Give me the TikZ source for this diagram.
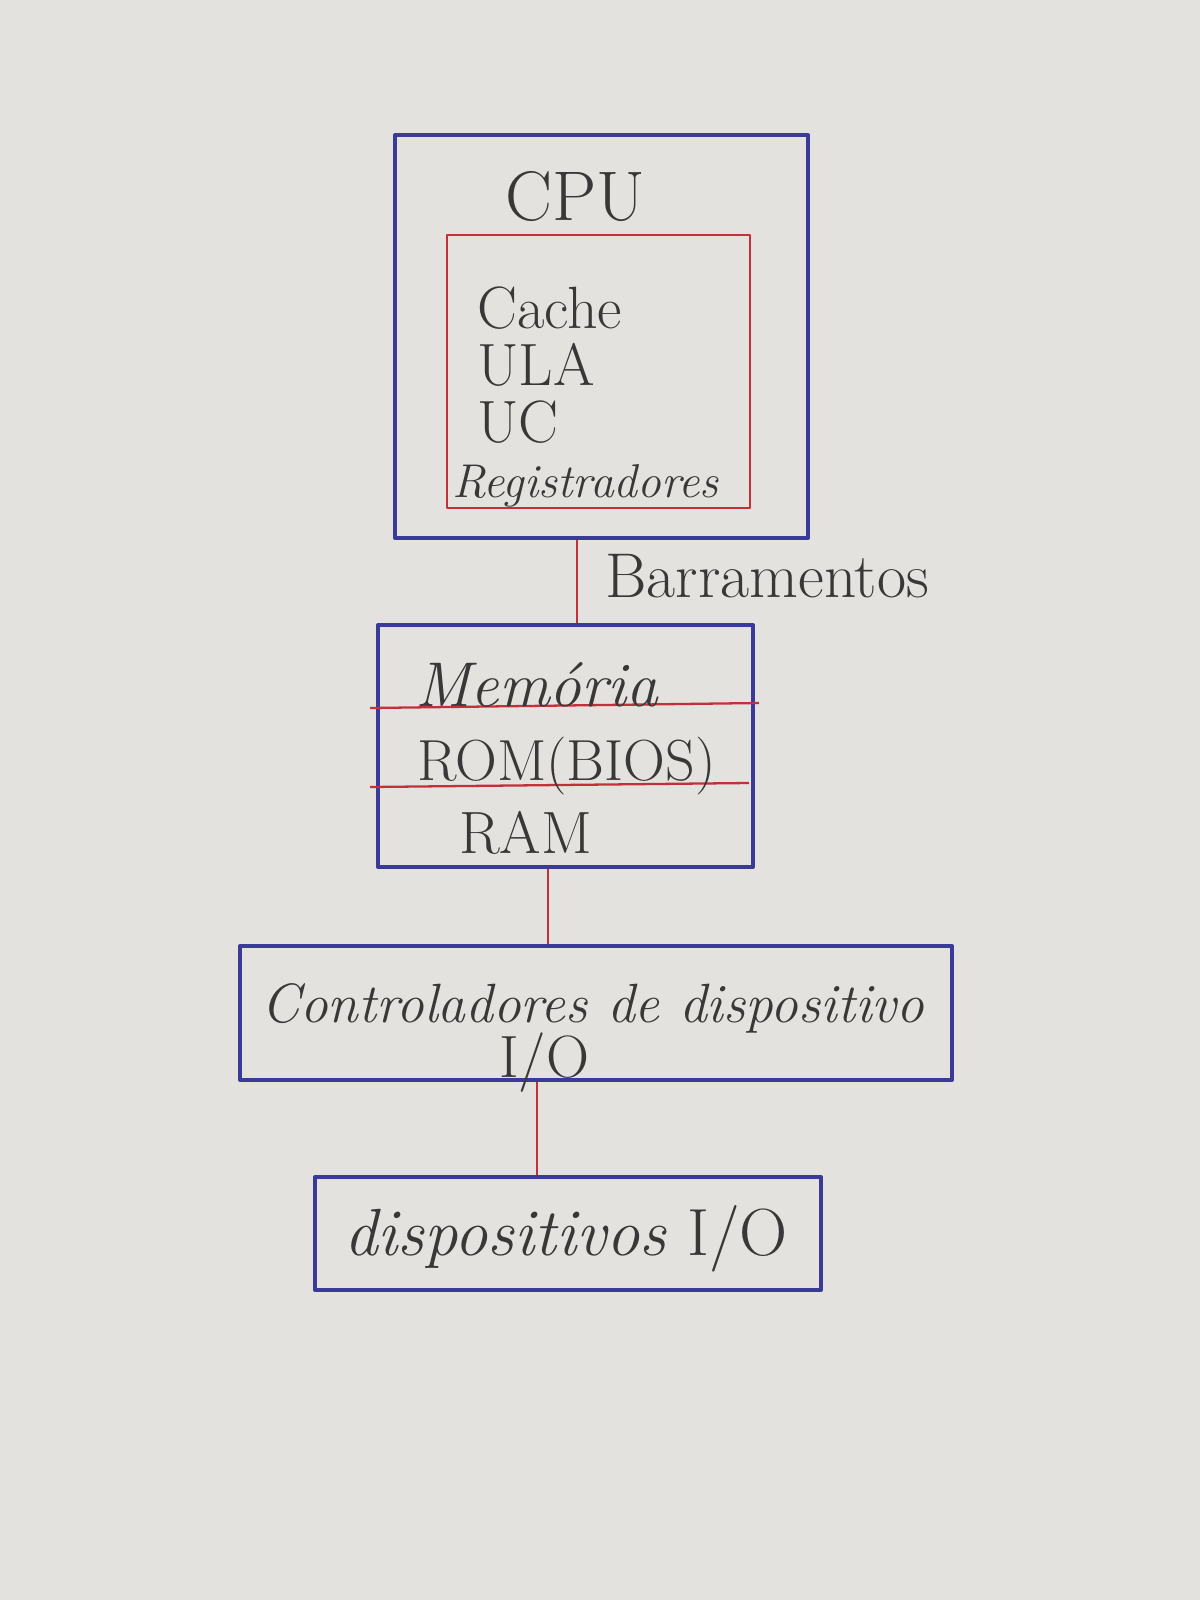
\documentclass[tikz,border=0pt]{standalone}
\usepackage{fontspec}
\usepackage{tikz}
\usetikzlibrary{positioning,calc}
\definecolor{paper}{HTML}{E4E2DE}
\definecolor{penblue}{HTML}{3A3A98}
\definecolor{penred}{HTML}{C4303A}
\definecolor{pencil}{HTML}{383838}
\newcommand{\pen}[1]{\fontsize{#1}{#1}\selectfont}

\begin{document}
\begin{tikzpicture}[
    x=0.02cm, y=-0.02cm,
    line join=round,
    every node/.style={inner sep=0pt, text=pencil},
    bluebox/.style={rectangle, draw=penblue, line width=2.4pt},
    redbox/.style={rectangle, draw=penred, line width=1.3pt},
    bus/.style={draw=penred, line width=1.1pt},
    hand/.style={anchor=base west, font=\pen{34pt}},
    cursive/.style={anchor=base west, font=\itshape\pen{#1}}
]
  % paper
  \fill[paper] (0,0) rectangle (1200,1600);
  \useasboundingbox (0,0) rectangle (1200,1600);

  % boxes
  \node[bluebox, minimum width=8.26cm, minimum height=8.06cm] (cpu) at (601.5,336.5) {};
  \node[redbox, minimum width=6.06cm, minimum height=5.46cm] (core) at (598.5,371.5) {};
  \node[bluebox, minimum width=7.5cm, minimum height=4.84cm] (mem) at (565.5,746) {};
  \node[bluebox, minimum width=14.24cm, minimum height=2.68cm] (ctrl) at (596,1013) {};
  \node[bluebox, minimum width=10.12cm, minimum height=2.26cm] (dev) at (568,1233.5) {};

  % memory dividers
  \draw[penred, line width=1.3pt] (370,708) -- (759,703);
  \draw[penred, line width=1.3pt] (370,787) -- (749,783);

  % texts
  \node[hand, font=\pen{40pt}] (cputxt) at (505,220) {CPU};
  \node[hand] (cache) at (477,328) {Cache};
  \node[hand] (ula) at (477,385) {ULA};
  \node[hand] (uc) at (477,442) {UC};
  \node[cursive=27pt] (regs) at (452,497) {Registradores};
  \node[hand, font=\pen{36pt}] (bus) at (605,597) {Barramentos};
  \node[cursive=36pt] (memtxt) at (415,706) {Memória};
  \node[hand, font=\pen{33pt}] (rom) at (417,780) {ROM(BIOS)};
  \node[hand] (ram) at (459,853) {RAM};
  \node[cursive=31.5pt] (ctrltxt) at (261,1022) {Controladores de dispositivo};
  \node[hand] (ctrlio) at (499,1077) {I/O};
  \node[hand, font=\pen{38pt}] (devtxt) at (344,1255) {\textit{dispositivos} I/O};

  % edges
  \coordinate (b1) at ([xshift=0.23cm]mem.north);
  \coordinate (b2) at ([xshift=-0.35cm]mem.south);
  \coordinate (b3) at ([xshift=-0.62cm]dev.north);
  \draw[bus] (b1) -- (b1 |- cpu.south);
  \draw[bus] (b2) -- (b2 |- ctrl.north);
  \draw[bus] (b3) -- (b3 |- ctrl.south);
\end{tikzpicture}
\end{document}
